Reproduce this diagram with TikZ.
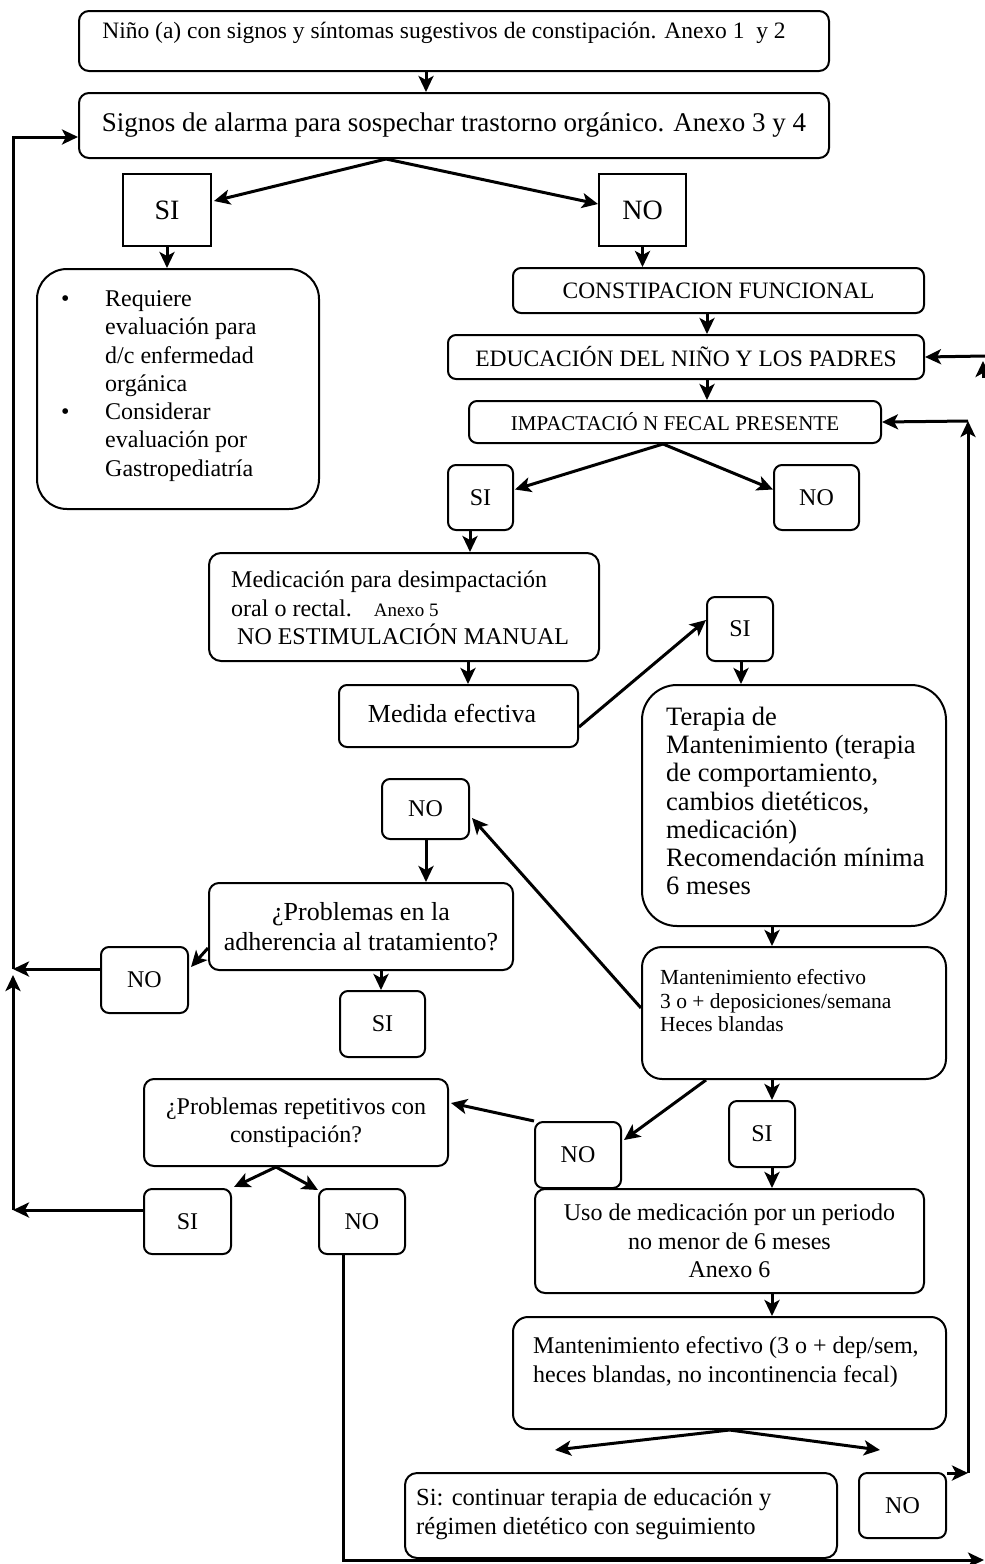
\documentclass[tikz,border=0pt]{standalone}
\usepackage{fontspec}
\setmainfont{Liberation Serif}
\usetikzlibrary{arrows.meta,calc}
\newcommand{\fz}[2]{\fontsize{#1pt}{#2pt}\selectfont}
\begin{document}
\begin{tikzpicture}[x=1pt,y=-1pt,
  bx/.style={draw, line width=2pt, rounded corners=#1, anchor=north west, inner sep=0pt},
  bx/.default=9pt,
  sq/.style={draw, line width=2pt, anchor=north west, inner sep=0pt},
  txt/.style={inner sep=0pt},
  body/.style={font=\fz{24}{28.3}},
  arr/.style={line width=3pt, -{Stealth[length=16pt,width=15pt,inset=4pt]}},
  ln/.style={line width=3pt}]
\fill[white] (0,0) rectangle (985,1564);
\useasboundingbox (0,0) rectangle (985,1564);

% boxes
\node[bx=10pt, minimum width=750pt, minimum height=60pt] (A) at (78,10) {};
\node[txt, font=\fz{23.5}{27}] (At) at (444,33) {Niño (a) con signos y síntomas sugestivos de constipación. Anexo 1\ \ y 2};
\node[bx=10pt, minimum width=750pt, minimum height=65pt, font=\fz{27}{31}] (B) at (78,92) {Signos de alarma para sospechar trastorno orgánico. Anexo 3 y 4};
\node[sq, minimum width=88pt, minimum height=72pt, font=\fz{28}{32}] (SI1) at (122,173) {SI};
\node[sq, minimum width=87pt, minimum height=72pt, font=\fz{28}{32}] (NO1) at (598,173) {NO};

\node[bx=30pt, minimum width=282pt, minimum height=240pt] (L) at (36,268) {};
\node[txt, body, anchor=west, align=left] (Lt) at (61,386) {\makebox[44pt][l]{\textbullet}Requiere\\\hspace*{44pt}evaluación para\\\hspace*{44pt}d/c enfermedad\\\hspace*{44pt}orgánica\\\makebox[44pt][l]{\textbullet}Considerar\\\hspace*{44pt}evaluación por\\\hspace*{44pt}Gastropediatría};

\node[bx=8pt, minimum width=411pt, minimum height=45pt, font=\fz{23.5}{27}] (CF) at (512,267) {CONSTIPACION FUNCIONAL};
\node[bx=8pt, minimum width=476pt, minimum height=44pt, font=\fz{23.5}{27}] (EDU) at (447,334) {EDUCACIÓN DEL NIÑO Y LOS PADRES};
\node[bx=8pt, minimum width=412pt, minimum height=42pt, font=\fz{21}{25}] (IMP) at (468,400) {IMPACTACIÓ N FECAL PRESENTE};
\node[bx=8pt, minimum width=65pt, minimum height=65pt, font=\fz{24}{28}] (SI2) at (447,464) {SI};
\node[bx=8pt, minimum width=85pt, minimum height=65pt, font=\fz{24}{28}] (NO2) at (773,464) {NO};

\node[bx=12pt, minimum width=390pt, minimum height=108pt] (MED) at (208,552) {};
\node[txt, body, anchor=west, align=left] (MEDt) at (231,608) {Medicación para desimpactación\\oral o rectal.\hspace{22pt}{\fz{19}{28.3}Anexo 5}\\\hspace*{6pt}NO ESTIMULACIÓN MANUAL};

\node[bx=8pt, minimum width=239pt, minimum height=62pt] (ME) at (338,684) {};
\node[txt, font=\fz{26}{30}] (MEt) at (452,713) {Medida efectiva};
\node[bx=8pt, minimum width=66pt, minimum height=64pt, font=\fz{24}{28}] (SI3) at (706,596) {SI};

\node[bx=35pt, minimum width=304pt, minimum height=241pt] (TER) at (641,684) {};
\node[txt, font=\fz{26.5}{28.3}, anchor=west, align=left] (TERt) at (666,801) {Terapia de\\Mantenimiento (terapia\\de comportamiento,\\cambios dietéticos,\\medicación)\\Recomendación mínima\\6 meses};

\node[bx=8pt, minimum width=87pt, minimum height=60pt, font=\fz{24}{28}] (NO3) at (381,778) {NO};
\node[bx=10pt, minimum width=304pt, minimum height=87pt, font=\fz{26}{30}, align=center] (PA) at (208,882) {¿Problemas en la\\adherencia al tratamiento?};
\node[bx=8pt, minimum width=87pt, minimum height=66pt, font=\fz{24}{28}] (NO4) at (100,946) {NO};
\node[bx=8pt, minimum width=85pt, minimum height=66pt, font=\fz{24}{28}] (SI4) at (339,990) {SI};

\node[bx=20pt, minimum width=304pt, minimum height=132pt] (MEF) at (641,946) {};
\node[txt, font=\fz{21.5}{23.5}, anchor=west, align=left] (MEFt) at (660,1001) {Mantenimiento efectivo\\3 o + deposiciones/semana\\Heces blandas};

\node[bx=8pt, minimum width=66pt, minimum height=66pt, font=\fz{24}{28}] (SI5) at (728,1100) {SI};
\node[bx=8pt, minimum width=86pt, minimum height=66pt, font=\fz{24}{28}] (NO5) at (534,1121) {NO};
\node[bx=10pt, minimum width=304pt, minimum height=87pt, body, align=center] (PR) at (143,1078) {¿Problemas repetitivos con\\constipación?};
\node[bx=8pt, minimum width=87pt, minimum height=65pt, font=\fz{24}{28}] (SI6) at (143,1188) {SI};
\node[bx=8pt, minimum width=86pt, minimum height=65pt, font=\fz{24}{28}] (NO6) at (318,1188) {NO};

\node[bx=10pt, minimum width=389pt, minimum height=104pt, body, align=center] (USO) at (534,1188) {Uso de medicación por un periodo\\no menor de 6 meses\\Anexo 6};
\node[bx=15pt, minimum width=433pt, minimum height=112pt] (MEF2) at (512,1316) {};
\node[txt, body, anchor=west, align=left] (MEF2t) at (533,1362) {Mantenimiento efectivo (3 o + dep/sem,\\heces blandas, no incontinencia fecal)};

\node[bx=12pt, minimum width=432pt, minimum height=85pt] (SIC) at (404,1472) {};
\node[txt, font=\fz{24.6}{28.3}, anchor=west, align=left] (SICt) at (416,1514) {Si: continuar terapia de educación y\\régimen dietético con seguimiento};
\node[bx=8pt, minimum width=87pt, minimum height=65pt, font=\fz{24}{28}] (NO7) at (858,1472) {NO};

% free ends
\coordinate (L1) at (13,969);
\coordinate (L2) at (13,1210);
\coordinate (L3) at (13,975);
\coordinate (R1) at (968,1473);
\coordinate (R3) at (968,421);
\coordinate (R2) at (985,356);
\coordinate (R4) at (984,1560);
\coordinate (M1) at (555,1450);
\coordinate (M2) at (880,1450);
\coordinate (U1) at (983,378);
\coordinate (U2) at (983,361);

% connectors
\draw[arr] ($(A.south west)+(348,0)$) -- ($(B.north west)+(348,0)$);
\draw[arr] ($(B.south west)+(308,0)$) -- ($(SI1.east)+(2,-9)$);
\draw[arr] ($(B.south west)+(308,0)$) -- ($(NO1.west)+(0,-6)$);
\draw[arr] (SI1.south) -- (SI1.south |- L.north);
\draw[arr] (NO1.south) -- (NO1.south |- CF.north);
\draw[arr] ($(CF.south west)+(195,0)$) -- ($(EDU.north west)+(260,0)$);
\draw[arr] ($(EDU.south west)+(260,0)$) -- ($(IMP.north west)+(239,0)$);
\draw[arr] ($(IMP.south west)+(195,0)$) -- ($(SI2.east)+(1,-8)$);
\draw[arr] ($(IMP.south west)+(195,0)$) -- ($(NO2.west)+(0,-8)$);
\draw[arr] ($(SI2.south west)+(23,0)$) -- ($(MED.north west)+(262,0)$);
\draw[arr] ($(MED.south west)+(260,0)$) -- ($(ME.north west)+(130,0)$);
\draw[arr] ($(ME.north east)+(0,43)$) -- ($(SI3.north west)+(0,24)$);
\draw[arr] ($(SI3.south west)+(35,0)$) -- ($(TER.north west)+(100,0)$);
\draw[arr] ($(TER.south west)+(131,0)$) -- ($(MEF.north west)+(131,0)$);
\draw[arr] ($(MEF.north west)+(0,62)$) -- ($(NO3.north east)+(2,40)$);
\draw[arr] ($(NO3.south west)+(45,0)$) -- ($(PA.north west)+(218,0)$);
\draw[arr] ($(PA.north west)+(0,66)$) -- ($(NO4.north east)+(2,21)$);
\draw[arr] ($(NO4.north west)+(0,23)$) -- (L1);
\draw[arr] ($(PA.south west)+(173,0)$) -- ($(SI4.north west)+(42,0)$);
\draw[arr] ($(MEF.south west)+(131,0)$) -- ($(SI5.north west)+(44,0)$);
\draw[arr] ($(MEF.south west)+(65,0)$) -- ($(NO5.north east)+(2,19)$);
\draw[arr] (NO5.north west) -- ($(PR.north east)+(2,25)$);
\draw[arr] ($(PR.south west)+(133,0)$) -- ($(SI6.north east)+(2,-1)$);
\draw[arr] ($(PR.south west)+(133,0)$) -- ($(NO6.north west)+(0,2)$);
\draw[arr] ($(SI6.north west)+(0,22)$) -- (L2);
\draw[arr] (L2) -- (L3);
\draw[arr] (L1) |- ($(B.north west)+(0,45)$);
\draw[arr] ($(NO6.south west)+(25,0)$) |- (R4);
\draw[arr] ($(SI5.south west)+(44,0)$) -- ($(USO.north west)+(238,0)$);
\draw[arr] ($(USO.south west)+(238,0)$) -- ($(MEF2.north west)+(260,0)$);
\draw[arr] (MEF2.south) -- (M1);
\draw[arr] (MEF2.south) -- (M2);
\draw[arr] ($(NO7.north east)+(0,1)$) -- (R1);
\draw[arr] (R1) -- (R3);
\draw[arr] (R3) -- (IMP.east);
\draw[arr] (R2) -- (EDU.east);
\draw[arr] (U1) -- (U2);
\end{tikzpicture}
\end{document}
